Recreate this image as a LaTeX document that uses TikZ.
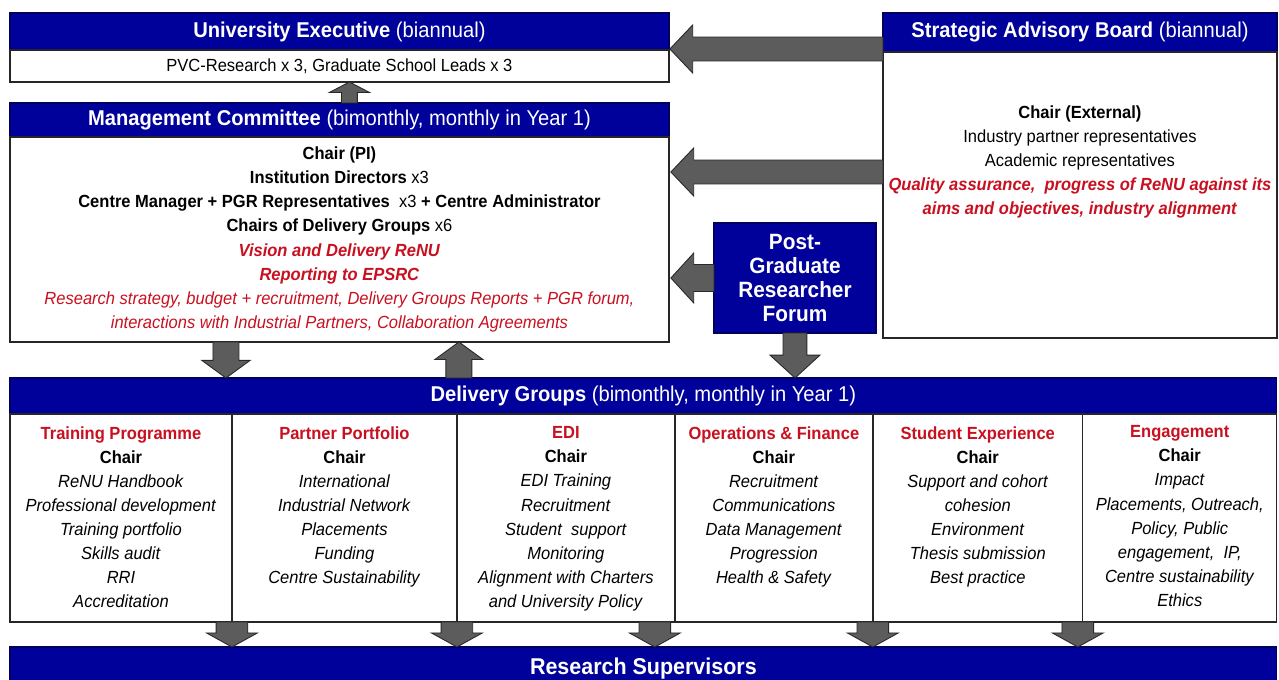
\documentclass[tikz,border=0pt]{standalone}
\usepackage{fontspec}
\setmainfont{Liberation Sans}[FakeStretch=0.94]
\usetikzlibrary{positioning,calc}

\definecolor{hdrblue}{RGB}{0,0,155}
\definecolor{redtxt}{RGB}{200,16,32}
\definecolor{arrgray}{RGB}{92,92,92}
\definecolor{arredge}{RGB}{40,40,40}

\tikzset{
  aw/.store in=\arrw, ah/.store in=\arrh, al/.store in=\arrl,
  aw=6pt, ah=13pt, al=10pt,
  blockarrow/.style={fill=arrgray, draw=arredge, line width=0.5pt, line join=miter,
    to path={let \p1=(\tikztostart), \p2=(\tikztotarget), \n1={atan2(\y2-\y1,\x2-\x1)} in
      ($(\p1)+(\n1+90:\arrw)$) -- ($(\p2)+(\n1+180:\arrl)+(\n1+90:\arrw)$)
      -- ($(\p2)+(\n1+180:\arrl)+(\n1+90:\arrh)$) -- (\p2)
      -- ($(\p2)+(\n1+180:\arrl)+(\n1-90:\arrh)$) -- ($(\p2)+(\n1+180:\arrl)+(\n1-90:\arrw)$)
      -- ($(\p1)+(\n1-90:\arrw)$) -- cycle}},
  bigleft/.style={blockarrow, aw=6.8pt, ah=13.7pt, al=13pt},
  pgrleft/.style={blockarrow, aw=7.7pt, ah=14.2pt, al=13pt},
  upsmall/.style={blockarrow, aw=4.5pt, ah=11.5pt, al=6pt},
  midarrow/.style={blockarrow, aw=7.4pt, ah=13.7pt, al=10pt},
  pgrdown/.style={blockarrow, aw=6.8pt, ah=14.2pt, al=13pt},
  footarrow/.style={blockarrow, aw=9pt, ah=14.5pt, al=8pt}
}

\begin{document}
\begin{tikzpicture}[x=0.02cm, y=-0.02cm, thick,
    hdr/.style = {draw=hdrblue!60!black, fill=hdrblue, text=white, rectangle, inner sep=0pt, outer sep=0pt, font=\fontsize{12.2}{14}\selectfont},
    body/.style = {draw=black!85, fill=white, rectangle, inner sep=0pt, outer sep=0pt, align=center, font=\fontsize{10}{13.7}\selectfont},
    coltext/.style = {align=center, inner sep=0pt, font=\fontsize{10}{13.7}\selectfont},
    colbox/.style = {body, minimum height=4.16cm}
    ]
\useasboundingbox (0,0) rectangle (1279,680);

% top left: executive and management committee
\node[hdr, minimum width=13.18cm, minimum height=0.74cm, anchor=north west] (ue) at (10,13) {\textbf{University Executive} (biannual)};
\node[body, minimum width=13.18cm, minimum height=0.64cm, below=0pt of ue] (uebody) {PVC-Research x 3, Graduate School Leads x 3};

\node[hdr, minimum width=13.18cm, minimum height=0.68cm, anchor=north west] (mc) at (10,103) {\textbf{Management Committee} (bimonthly, monthly in Year 1)};
\node[body, minimum width=13.18cm, minimum height=4.1cm, below=0pt of mc] (mcbody) {\textbf{Chair (PI)}\\
  \textbf{Institution Directors} x3\\
  \textbf{Centre Manager + PGR Representatives}\ \ x3 \textbf{+ Centre Administrator}\\
  \textbf{Chairs of Delivery Groups} x6\\
  \textcolor{redtxt}{\textbf{\textit{Vision and Delivery ReNU}}}\\
  \textcolor{redtxt}{\textbf{\textit{Reporting to EPSRC}}}\\
  \textcolor{redtxt}{\textit{Research strategy, budget + recruitment, Delivery Groups Reports + PGR forum,}}\\
  \textcolor{redtxt}{\textit{interactions with Industrial Partners, Collaboration Agreements}}};

% top right: advisory board and PGR forum
\node[hdr, minimum width=7.88cm, minimum height=0.78cm, anchor=north west] (sab) at (883,13) {\textbf{Strategic Advisory Board} (biannual)};
\node[body, minimum width=7.88cm, minimum height=5.72cm, below=0pt of sab] (sabbody) {};
\node[coltext, below=1.06cm of sab.south] (sabtext) {\textbf{Chair (External)}\\
  Industry partner representatives\\
  Academic representatives\\
  \textcolor{redtxt}{\textbf{\textit{Quality assurance, \ progress of ReNU against its}}}\\
  \textcolor{redtxt}{\textbf{\textit{aims and objectives, industry alignment}}}};

\node[hdr, minimum width=3.24cm, minimum height=2.2cm, anchor=north west, align=center, font=\fontsize{12.6}{13.7}\selectfont\bfseries] (pgr) at (714,223) {Post-\\Graduate\\Researcher\\Forum};

% delivery groups
\node[hdr, minimum width=25.34cm, minimum height=0.72cm, anchor=north west] (dg) at (10,378) {\textbf{Delivery Groups} (bimonthly, monthly in Year 1)};

\node[colbox, minimum width=4.44cm, anchor=north west] (c1) at (dg.south west) {};
\node[colbox, minimum width=4.5cm, right=0pt of c1] (c2) {};
\node[colbox, minimum width=4.36cm, right=0pt of c2] (c3) {};
\node[colbox, minimum width=3.96cm, right=0pt of c3] (c4) {};
\node[colbox, minimum width=4.2cm, right=0pt of c4] (c5) {};
\node[colbox, minimum width=3.88cm, right=0pt of c5] (c6) {};

\node[coltext, below=0.24cm of c1.north] (t1) {\textcolor{redtxt}{\textbf{Training Programme}}\\ \textbf{Chair}\\
  \textit{ReNU Handbook}\\ \textit{Professional development}\\ \textit{Training portfolio}\\
  \textit{Skills audit}\\ \textit{RRI}\\ \textit{Accreditation}};
\node[coltext, below=0.24cm of c2.north] (t2) {\textcolor{redtxt}{\textbf{Partner Portfolio}}\\ \textbf{Chair}\\
  \textit{International}\\ \textit{Industrial Network}\\ \textit{Placements}\\
  \textit{Funding}\\ \textit{Centre Sustainability}};
\node[coltext, below=0.24cm of c3.north] (t3) {\textcolor{redtxt}{\textbf{EDI}}\\ \textbf{Chair}\\
  \textit{EDI Training}\\ \textit{Recruitment}\\ \textit{Student \ support}\\
  \textit{Monitoring}\\ \textit{Alignment with Charters}\\ \textit{and University Policy}};
\node[coltext, below=0.24cm of c4.north] (t4) {\textcolor{redtxt}{\textbf{Operations \& Finance}}\\ \textbf{Chair}\\
  \textit{Recruitment}\\ \textit{Communications}\\ \textit{Data Management}\\
  \textit{Progression}\\ \textit{Health \& Safety}};
\node[coltext, below=0.24cm of c5.north] (t5) {\textcolor{redtxt}{\textbf{Student Experience}}\\ \textbf{Chair}\\
  \textit{Support and cohort}\\ \textit{cohesion}\\ \textit{Environment}\\
  \textit{Thesis submission}\\ \textit{Best practice}};
\node[coltext, below=0.22cm of c6.north] (t6) {\textcolor{redtxt}{\textbf{Engagement}}\\ \textbf{Chair}\\
  \textit{Impact}\\ \textit{Placements, Outreach,}\\ \textit{Policy, Public}\\
  \textit{engagement, \ IP,}\\ \textit{Centre sustainability}\\ \textit{Ethics}};

\node[hdr, minimum width=25.34cm, minimum height=0.86cm, anchor=north west, font=\fontsize{13}{14}\selectfont\bfseries] (rs) at (10,647) {Research Supervisors};

% block arrows
\draw[upsmall] ($(mc.north)+(10,0)$) to ($(uebody.south)+(10,0)$);
\draw[bigleft] ($(sab.south west)+(0,-3)$) to ($(ue.south east |- sab.south west)+(1,-3)$);
\draw[bigleft] ($(sabbody.north west)+(0,120)$) to ($(mcbody.north east |- sabbody.north west)+(2,120)$);
\draw[pgrleft] (pgr.west) to ($(mcbody.east |- pgr.west)+(2,0)$);

\draw[midarrow] ($(mcbody.south -| c1.north east)+(-6,0)$) to ($(dg.north -| c1.north east)+(-6,0)$);
\draw[midarrow] ($(dg.north -| c2.north east)+(2,0)$) to ($(mcbody.south -| c2.north east)+(2,0)$);
\draw[pgrdown] (pgr.south) to (dg.north -| pgr.south);

\draw[footarrow] (c1.south east) to (rs.north -| c1.south east);
\draw[footarrow] (c2.south east) to (rs.north -| c2.south east);
\draw[footarrow] ($(c3.south east)+(-20,0)$) to ($(rs.north -| c3.south east)+(-20,0)$);
\draw[footarrow] (c4.south east) to (rs.north -| c4.south east);
\draw[footarrow] ($(c5.south east)+(-5,0)$) to ($(rs.north -| c5.south east)+(-5,0)$);

\end{tikzpicture}
\end{document}
